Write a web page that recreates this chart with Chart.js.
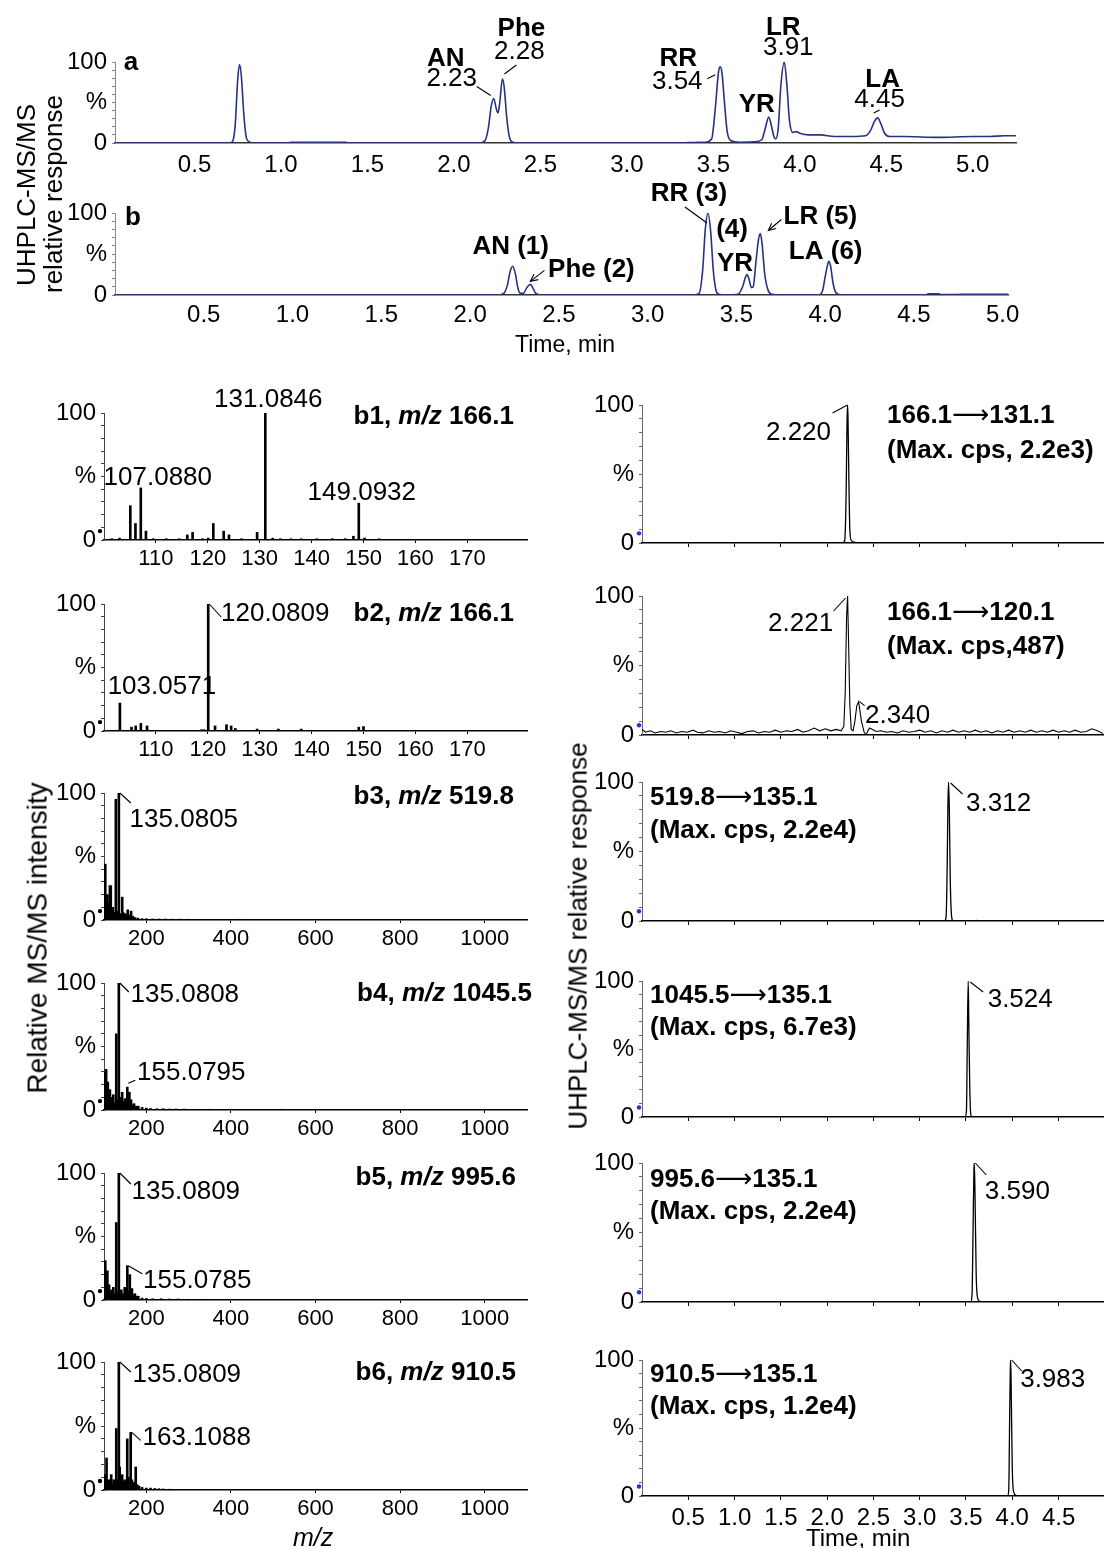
<!DOCTYPE html>
<html>
<head>
<meta charset="utf-8">
<title>UHPLC-MS/MS chromatograms and MS/MS spectra</title>
<script src="https://cdn.jsdelivr.net/npm/chart.js@4.4.1/dist/chart.umd.min.js"></script>
<style>
  html, body { margin: 0; padding: 0; background: #fff; }
  #page { position: relative; width: 1108px; height: 1548px; overflow: hidden; background: #fff;
          font-family: "Liberation Sans", Arial, Helvetica, sans-serif; color: #000; }
  #page canvas { position: absolute; }
  .txt { position: absolute; white-space: nowrap; text-align: center; color: #000; }
</style>
</head>
<body>
<div id="page"></div>
<script>
// ---------------- data ----------------
// Chromatogram (a): [retention time (min), relative response (%)]
const chromA = [[0.04,0],[0.6,0],[0.70,0],[0.72,2],[0.735,22],[0.75,80],[0.76,97],[0.77,84],[0.785,35],[0.80,6],[0.82,1],[0.85,0],
  [1.04,0],[1.06,1],[1.37,1],[1.39,0],[2.15,0],[2.18,3],[2.20,20],[2.215,45],[2.23,55],[2.245,42],[2.255,37],[2.265,50],[2.28,79],
  [2.29,70],[2.305,32],[2.32,8],[2.34,1],[2.38,0],[3.30,0],[3.36,0.5],[3.45,1],[3.49,5],[3.51,40],[3.53,88],[3.54,94],[3.55,86],
  [3.565,48],[3.58,14],[3.60,3],[3.65,1],[3.74,1.5],[3.78,4],[3.80,18],[3.82,32],[3.835,22],[3.85,8],[3.86,5],[3.875,18],[3.89,70],
  [3.91,100],[3.925,72],[3.94,28],[3.96,13],[3.98,14],[4.00,12],[4.05,10],[4.12,10],[4.20,8],[4.30,8],[4.38,9],[4.41,16],[4.43,26],
  [4.45,31],[4.47,23],[4.49,12],[4.52,8],[4.60,8],[4.80,7],[5.00,8],[5.10,8],[5.18,9],[5.25,9]];

// Chromatogram (b): [retention time (min), relative response (%)]
const chromB = [[0,0],[2.16,0],[2.19,2],[2.21,12],[2.225,28],[2.24,35],[2.255,26],[2.27,8],[2.285,2],[2.30,2],[2.32,9],[2.34,13],
  [2.355,8],[2.37,2],[2.40,0],[3.25,0],[3.29,2],[3.31,30],[3.325,80],[3.34,100],[3.355,78],[3.37,30],[3.385,6],[3.40,1],[3.44,0],
  [3.51,1],[3.535,10],[3.55,21],[3.56,25],[3.57,20],[3.585,9],[3.595,10],[3.61,40],[3.625,68],[3.635,75],[3.645,62],[3.66,25],
  [3.68,5],[3.70,1],[3.74,0],[3.96,0],[3.985,5],[4.00,22],[4.015,38],[4.02,41],[4.03,36],[4.045,14],[4.06,3],[4.09,0],[4.57,0],
  [4.58,1.5],[4.64,1.5],[4.65,0.5],[4.75,0.5],[4.77,1],[5.03,1]];

// Product-ion spectra: [m/z, relative intensity (%)]
const specB1 = [[101.5,1],[103.0,1.5],[105.07,27],[106.06,13],[107.09,41],[108.08,7],[109.5,1],[112.0,1],[114.5,1],[116.05,4],
  [117.07,6],[119.0,1],[120.08,1.5],[121.06,13],[123.06,7],[124.08,4],[126.5,1],[129.5,6],[131.08,100],[132.5,1.5],[134,1],[136,1],
  [138,1],[141,1],[144,1],[146.5,1],[148.06,3],[149.09,29],[150.2,1.5],[153,1],[158,0.5],[163,0.5],[170,0.5],[176,0.5]];
const specB2 = [[103.06,22],[105.3,3],[106.1,4],[107.1,6],[108.3,4],[118.8,1],[119.3,1],[120.08,100],[121.4,4],[123.6,5],
  [124.5,4],[125.3,2],[129.5,1.5],[133.6,1.5],[138.0,1.5],[149.1,3],[150.0,3.5]];
const specB3 = [[101,12],[103,44],[105,18],[106,10],[108,20],[110,9],[112,14],[114,27],[116,27],[118,8],[121,10],[123,6],[125,5],
  [128,95],[131,7],[135.08,100],[137,5],[140,4],[143,18],[145,6],[149,5],[152,4],[156,8],[160,4],[164,7],[168,3],[173,2],[180,1.5],
  [190,1],[200,1],[215,0.8],[230,0.8],[245,0.8],[260,0.7],[280,0.7],[300,0.6],[330,0.5],[370,0.5],[420,0.6],[470,0.5],[520,0.5],
  [580,0.4],[640,0.5],[700,0.4],[760,0.5],[820,0.4],[880,0.5],[940,0.4],[1000,0.4],[1060,0.4]];
const specB4 = [[101,30],[103,18],[105,32],[107,12],[109,22],[111,9],[114,16],[116,7],[118,10],[120,6],[122,12],[125,6],[129,60],
  [131,8],[135.08,100],[137,6],[139,10],[141,5],[143,14],[147,7],[150,9],[155.08,18],[158,8],[160,14],[164,8],[168,4],[171,5],
  [176,3],[181,3],[190,2],[200,1.5],[210,1.2],[225,1],[240,1],[255,0.8],[270,0.8],[290,0.7],[320,0.6],[350,0.6],[400,0.6],
  [460,0.5],[520,0.6],[580,0.5],[640,0.5],[700,0.5],[760,0.5],[820,0.5],[880,0.4],[940,0.5],[1000,0.4],[1060,0.4]];
const specB5 = [[101,10],[103,31],[105,14],[108,23],[110,8],[112,12],[115,6],[118,8],[120,5],[122,10],[125,5],[129,61],[131,6],
  [135.08,100],[137,5],[141,8],[145,5],[149,10],[152,6],[155.08,27],[158,7],[161,20],[164,6],[166,9],[170,4],[173,5],[177,3],
  [181,3],[190,1.5],[200,1.2],[215,1],[235,1],[255,0.8],[275,0.8],[300,0.6],[340,0.6],[400,0.5],[460,0.5],[530,0.5],[600,0.4],
  [680,0.5],[750,0.4],[830,0.5],[900,0.4],[960,0.5],[1040,0.4]];
const specB6 = [[101,12],[104,8],[106,25],[108,6],[111,8],[114,6],[117,12],[120,5],[123,8],[126,6],[129,48],[131,8],[135.08,100],
  [137,18],[140,6],[143,12],[147,7],[150,8],[155,40],[158,10],[163.11,45],[166,8],[170,6],[175,18],[179,4],[183,3],[190,2],
  [200,1.5],[210,1.5],[220,1.2],[230,1],[240,0.8],[255,0.6],[270,0.5],[300,0.5],[350,0.4],[420,0.4],[500,0.4],[600,0.3],
  [700,0.3],[800,0.3],[900,0.3],[1000,0.3]];

// MRM traces: [retention time (min), relative response (%)]
const mrmB1 = [[0,0],[2.17,0],[2.19,2],[2.205,35],[2.215,88],[2.22,100],[2.225,92],[2.235,45],[2.245,10],[2.26,2],[2.30,0.5],[2.35,0],[4.98,0]];
const mrmB2 = [[0,4],[0.04,2],[0.09,3],[0.14,1.5],[0.2,2.5],[0.26,2],[0.31,3],[0.37,1.5],[0.43,2.5],[0.49,2],[0.55,3.5],[0.6,2],
  [0.66,1.5],[0.72,3],[0.78,2],[0.84,2.5],[0.9,1.5],[0.96,3],[1.02,2],[1.08,1],[1.14,2.5],[1.2,3],[1.26,1.5],[1.32,2.5],[1.38,2],
  [1.44,3.5],[1.5,2],[1.56,3],[1.62,2.5],[1.68,4],[1.74,2],[1.8,3],[1.86,5],[1.92,3],[1.98,4.5],[2.04,3],[2.1,4],[2.15,3],[2.18,6],
  [2.195,30],[2.21,85],[2.221,100],[2.23,72],[2.245,22],[2.26,4],[2.28,3],[2.30,10],[2.32,21],[2.34,24],[2.355,17],[2.37,10],
  [2.385,6],[2.40,2],[2.42,0],[2.44,3],[2.46,5],[2.49,4],[2.53,2.5],[2.58,3],[2.64,2],[2.7,2.5],[2.76,1.5],[2.82,3],[2.88,2],
  [2.94,2.5],[3.0,3.5],[3.06,2],[3.12,3],[3.18,1.5],[3.24,3],[3.3,2],[3.36,3.5],[3.42,2],[3.48,3],[3.54,2],[3.6,3.5],[3.66,2],
  [3.72,3],[3.78,1.5],[3.84,3],[3.9,2],[3.96,3.5],[4.02,2],[4.08,3],[4.14,2],[4.2,3.5],[4.26,2],[4.32,3],[4.38,2],[4.44,3.5],
  [4.5,2],[4.56,3],[4.62,2],[4.68,3.5],[4.74,2],[4.8,2.5],[4.86,4.5],[4.92,3],[4.98,1]];
const mrmB3 = [[0,0],[3.27,0],[3.285,3],[3.297,40],[3.305,85],[3.312,100],[3.32,80],[3.33,30],[3.345,3],[3.36,0],[3.60,0],[3.61,0.5],[3.63,0],[4.98,0]];
const mrmB4 = [[0,0],[3.49,0],[3.505,5],[3.515,60],[3.524,100],[3.53,70],[3.54,25],[3.55,3],[3.565,0],[4.98,0]];
const mrmB5 = [[0,0],[3.55,0],[3.565,5],[3.578,60],[3.586,96],[3.59,100],[3.598,75],[3.61,20],[3.625,3],[3.65,0.5],[3.70,0],[4.98,0]];
const mrmB6 = [[0,0],[3.95,0],[3.962,5],[3.972,60],[3.979,95],[3.983,100],[3.99,70],[4.00,20],[4.015,3],[4.04,0.5],[4.10,0],[4.98,0]];

// Axis ticks and tick labels
const timeTicks = [0.5, 1.0, 1.5, 2.0, 2.5, 3.0, 3.5, 4.0, 4.5, 5.0];
const mrmTimeTicks = [0.5, 1.0, 1.5, 2.0, 2.5, 3.0, 3.5, 4.0, 4.5];
const mzTicksNarrow = [110, 120, 130, 140, 150, 160, 170];
const mzTicksWide = [200, 400, 600, 800, 1000];
const pctTicks = [0, 10, 20, 30, 40, 50, 60, 70, 80, 90, 100];
const pctLabels = { 0: '0', 50: '%', 100: '100' };

// ---------------- drawing ----------------
const FONT = '"Liberation Sans", Arial, Helvetica, "DejaVu Sans", sans-serif';
const REG = `26px ${FONT}`;
const BOLD = `bold 26px ${FONT}`;
const BOLDIT = `italic bold 26px ${FONT}`;
const ARROW = `26px "DejaVu Sans", sans-serif`;
const PAD = { l: 80, r: 40, t: 60, b: 50 };
const page = document.getElementById('page');

function addText(txt, cx, cy, size, opts = {}) {
  const d = document.createElement('div');
  d.className = 'txt';
  d.textContent = txt;
  d.style.font = `${opts.italic ? 'italic ' : ''}${opts.bold ? 'bold ' : ''}${size}px ${FONT}`;
  d.style.lineHeight = size + 'px';
  page.appendChild(d);
  const w = d.offsetWidth, h = d.offsetHeight;
  d.style.left = (cx - w / 2) + 'px';
  d.style.top = (cy - h / 2) + 'px';
  if (opts.rotate) d.style.transform = 'rotate(-90deg)';
}

// Labels, leader lines and arrows, anchored to data points or the plot area
function annotPlugin(items) {
  return {
    id: 'annot',
    afterDraw(chart) {
      const { ctx, chartArea: ca } = chart;
      const xs = chart.scales.x, ys = chart.scales.y;
      ctx.save();
      for (const it of items) {
        let ax, ay;
        if (it.at) { ax = xs.getPixelForValue(it.at[0]); ay = ys.getPixelForValue(it.at[1]); }
        else { ax = it.edge === 'right' ? ca.right : ca.left; ay = ca.top; }
        if (it.line) {
          const [x1, y1, x2, y2] = it.line;
          ctx.strokeStyle = '#000';
          ctx.lineWidth = it.lw || 1.1;
          ctx.beginPath(); ctx.moveTo(ax + x1, ay + y1); ctx.lineTo(ax + x2, ay + y2); ctx.stroke();
          if (it.head) {
            const a = Math.atan2(y2 - y1, x2 - x1), L = 8;
            ctx.beginPath();
            ctx.moveTo(ax + x2 - L * Math.cos(a - 0.45), ay + y2 - L * Math.sin(a - 0.45));
            ctx.lineTo(ax + x2, ay + y2);
            ctx.lineTo(ax + x2 - L * Math.cos(a + 0.45), ay + y2 - L * Math.sin(a + 0.45));
            ctx.stroke();
          }
        }
        if (it.mark) {
          ctx.fillStyle = it.mark;
          ctx.beginPath(); ctx.arc(ax + it.dx, ay + it.dy, 2.2, 0, Math.PI * 2); ctx.fill();
        }
        const parts = it.parts || (it.text ? [[it.text, it.font || REG]] : null);
        if (parts) {
          ctx.fillStyle = '#000';
          ctx.textBaseline = 'middle';
          ctx.textAlign = 'left';
          let w = 0;
          parts.forEach(([s, f]) => { ctx.font = f; w += ctx.measureText(s).width; });
          let x0 = ax + it.dx;
          const align = it.align || 'center';
          if (align === 'center') x0 -= w / 2; else if (align === 'right') x0 -= w;
          parts.forEach(([s, f]) => { ctx.font = f; ctx.fillText(s, x0, ay + it.dy); x0 += ctx.measureText(s).width; });
        }
      }
      ctx.restore();
    }
  };
}

function panel(p) {
  const W = p.right - p.left + PAD.l + PAD.r;
  const H = p.bottom - p.top + PAD.t + PAD.b;
  const cv = document.createElement('canvas');
  cv.width = W; cv.height = H;
  Object.assign(cv.style, { left: (p.left - PAD.l) + 'px', top: (p.top - PAD.t) + 'px', width: W + 'px', height: H + 'px' });
  page.appendChild(cv);
  const spec = p.kind === 'spec';
  const points = p.series.map(([x, y]) => ({ x, y }));
  const ds = spec
    ? { type: 'bar', data: points, backgroundColor: '#000', barThickness: 2, grouped: false, borderWidth: 0 }
    : { type: 'line', data: points, borderColor: p.color || '#000', borderWidth: p.lw || 1.3, pointRadius: 0, fill: false,
        cubicInterpolationMode: p.noisy ? 'default' : 'monotone', tension: 0 };
  new Chart(cv, {
    type: spec ? 'bar' : 'line',
    data: { datasets: [ds] },
    options: {
      responsive: false, animation: false, events: [],
      layout: { padding: { left: 0, top: PAD.t, right: PAD.r, bottom: 0 } },
      plugins: { legend: { display: false }, tooltip: { enabled: false } },
      scales: {
        x: {
          type: 'linear', min: p.xMin, max: p.xMax, offset: false,
          afterFit(s) { s.height = PAD.b; },
          afterBuildTicks(s) { s.ticks = p.xTicks.map(v => ({ value: v })); },
          border: { color: p.xBorder || '#000', width: 1.5 },
          grid: { drawOnChartArea: false, drawTicks: (p.xTickLen || 0) > 0, tickLength: p.xTickLen || 0, color: '#000', offset: false },
          ticks: { autoSkip: false, maxRotation: 0, minRotation: 0, padding: p.xPad, color: '#000',
                   font: { family: FONT, size: p.xFont }, callback: v => (p.xLabel ? p.xLabel(v) : '') }
        },
        y: {
          min: 0, max: 100,
          afterFit(s) { s.width = PAD.l; },
          afterBuildTicks(s) { s.ticks = pctTicks.map(v => ({ value: v })); },
          border: { color: p.yBorder || '#555', width: 1 },
          grid: { drawOnChartArea: false, tickLength: 3, color: p.yBorder || '#555' },
          ticks: { autoSkip: false, padding: 5, color: '#000', font: { family: FONT, size: 24 },
                   callback: v => pctLabels[v] ?? '' }
        }
      }
    },
    plugins: [annotPlugin(p.items || [])]
  });
}

const fmtTime = v => v.toFixed(1);
const fmtMz = v => String(v);

// ---- overview chromatograms ----
const NAVY = '#27337c';
panel({ left: 115, right: 1016, top: 62, bottom: 143, xMin: 0.04, xMax: 5.25, series: chromA, color: NAVY, lw: 1.6,
  xTicks: timeTicks, xLabel: fmtTime, xFont: 24, xPad: 8, xBorder: '#333', yBorder: '#8a8a8a',
  items: [
    { text: 'a', font: BOLD, dx: 16, dy: 1 },
    { at: [2.23, 55], text: 'AN', font: BOLD, dx: -48, dy: -40 },
    { at: [2.23, 55], text: '2.23', dx: -42, dy: -20 },
    { at: [2.23, 55], line: [-17, -12, -3, -3] },
    { at: [2.28, 79], text: 'Phe', font: BOLD, dx: 19, dy: -50 },
    { at: [2.28, 79], text: '2.28', dx: 17, dy: -27 },
    { at: [2.28, 79], line: [2, -5, 14, -14] },
    { at: [3.54, 94], text: 'RR', font: BOLD, dx: -42, dy: -8 },
    { at: [3.54, 94], text: '3.54', dx: -43, dy: 15 },
    { at: [3.54, 94], line: [-13, 12, -5, 8] },
    { at: [3.82, 32], text: 'YR', font: BOLD, dx: -12, dy: -12 },
    { at: [3.91, 100], text: 'LR', font: BOLD, dx: -1, dy: -34 },
    { at: [3.91, 100], text: '3.91', dx: 4, dy: -14 },
    { at: [4.45, 31], text: 'LA', font: BOLD, dx: 5, dy: -38 },
    { at: [4.45, 31], text: '4.45', dx: 2, dy: -18 },
    { at: [4.45, 31], line: [-4, -5, 2, -8] }
  ] });

panel({ left: 115, right: 1008, top: 213, bottom: 295, xMin: 0, xMax: 5.03, series: chromB, color: NAVY, lw: 1.6,
  xTicks: timeTicks, xLabel: fmtTime, xFont: 24, xPad: 6, xBorder: '#333', yBorder: '#8a8a8a',
  items: [
    { text: 'b', font: BOLD, dx: 18, dy: 5 },
    { at: [2.24, 35], text: 'AN (1)', font: BOLD, dx: -2, dy: -19 },
    { at: [2.34, 13], text: 'Phe (2)', font: BOLD, dx: 61, dy: -15 },
    { at: [2.34, 13], line: [14, -14, 0, -3], head: true },
    { at: [3.34, 100], text: 'RR (3)', font: BOLD, dx: -19, dy: -19 },
    { at: [3.34, 100], line: [-23, -6, -1, 10] },
    { at: [3.56, 25], text: '(4)', font: BOLD, dx: -15, dy: -45 },
    { at: [3.56, 25], text: 'YR', font: BOLD, dx: -12, dy: -11 },
    { at: [3.635, 75], text: 'LR (5)', font: BOLD, dx: 60, dy: -17 },
    { at: [3.635, 75], line: [21, -14, 8, -3], head: true },
    { at: [4.02, 41], text: 'LA (6)', font: BOLD, dx: -3, dy: -10 }
  ] });

// ---- product-ion spectra ----
const specCommon = { kind: 'spec', left: 104, right: 527, xFont: 22, xPad: 3, xTickLen: 3, xLabel: fmtMz, yBorder: '#444' };
const dot = xMin => ({ at: [xMin, 7], mark: '#000', dx: -4, dy: 0 });
const title = (n, prec, dx, dy) => ({ edge: 'right', align: 'right', dx, dy,
  parts: [[`${n}, `, BOLD], ['m/z', BOLDIT], [` ${prec}`, BOLD]] });

panel({ ...specCommon, top: 413, bottom: 540, xMin: 100, xMax: 181.5, xTicks: mzTicksNarrow, series: specB1,
  items: [ dot(100), title('b1', '166.1', -13, 4),
    { at: [131.08, 100], text: '131.0846', dx: 3, dy: -13 },
    { at: [107.09, 41], text: '107.0880', dx: 17, dy: -10 },
    { at: [149.09, 29], text: '149.0932', dx: 3, dy: -10 } ] });

panel({ ...specCommon, top: 604, bottom: 731, xMin: 100, xMax: 181.5, xTicks: mzTicksNarrow, series: specB2,
  items: [ dot(100), title('b2', '166.1', -13, 10),
    { at: [120.08, 100], text: '120.0809', dx: 67, dy: 10 },
    { at: [120.08, 100], line: [1, 0, 13, 13] },
    { at: [103.06, 22], text: '103.0571', dx: 42, dy: -16 } ] });

panel({ ...specCommon, top: 793, bottom: 920, xMin: 100, xMax: 1100, xTicks: mzTicksWide, series: specB3,
  items: [ dot(100), title('b3', '519.8', -13, 4),
    { at: [135.08, 100], text: '135.0805', dx: 65, dy: 27 },
    { at: [135.08, 100], line: [1, 0, 12, 10] } ] });

panel({ ...specCommon, top: 983, bottom: 1110, xMin: 100, xMax: 1100, xTicks: mzTicksWide, series: specB4,
  items: [ dot(100), title('b4', '1045.5', 5, 11),
    { at: [135.08, 100], text: '135.0808', dx: 66, dy: 12 },
    { at: [135.08, 100], line: [1, 0, 10, 9] },
    { at: [155.08, 18], text: '155.0795', dx: 64, dy: -14 },
    { at: [155.08, 18], line: [1, -4, 8, -7] } ] });

panel({ ...specCommon, top: 1173, bottom: 1300, xMin: 100, xMax: 1100, xTicks: mzTicksWide, series: specB5,
  items: [ dot(100), title('b5', '995.6', -11, 5),
    { at: [135.08, 100], text: '135.0809', dx: 67, dy: 19 },
    { at: [135.08, 100], line: [1, 0, 12, 11] },
    { at: [155.08, 27], text: '155.0785', dx: 70, dy: 15 },
    { at: [155.08, 27], line: [1, 0, 15, 8] } ] });

panel({ ...specCommon, top: 1362, bottom: 1490, xMin: 100, xMax: 1100, xTicks: mzTicksWide, series: specB6,
  items: [ dot(100), title('b6', '910.5', -11, 11),
    { at: [135.08, 100], text: '135.0809', dx: 68, dy: 13 },
    { at: [135.08, 100], line: [1, 0, 12, 10] },
    { at: [163.11, 45], text: '163.1088', dx: 66, dy: 5 },
    { at: [163.11, 45], line: [1, 0, 10, 8] } ] });

// ---- MRM chromatograms ----
const mrmCommon = { left: 642, right: 1103, xMin: 0, xMax: 4.98, xTicks: mrmTimeTicks, xFont: 24, xPad: 4, xTickLen: 4,
  color: '#000', lw: 1.3, yBorder: '#666' };
const blue = { at: [0, 7], mark: '#1c35e8', dx: -3, dy: 0 };
const mrmTitle = (pre, prod, cps, dx, dy1, dy2) => [
  { align: 'left', dx, dy: dy1, parts: [[pre, BOLD], ['\u27F6', ARROW], [prod, BOLD]] },
  { align: 'left', dx, dy: dy2, parts: [[cps, BOLD]] } ];

panel({ ...mrmCommon, top: 405, bottom: 543, series: mrmB1,
  items: [ blue, ...mrmTitle('166.1', '131.1', '(Max. cps, 2.2e3)', 245, 11, 46),
    { at: [2.22, 100], text: '2.220', dx: -49, dy: 28 },
    { at: [2.22, 100], line: [-15, 8, 0, 0] } ] });

panel({ ...mrmCommon, top: 596, bottom: 735, series: mrmB2, noisy: true, lw: 1.1,
  items: [ blue, ...mrmTitle('166.1', '120.1', '(Max. cps,487)', 245, 17, 51),
    { at: [2.221, 100], text: '2.221', dx: -47, dy: 28 },
    { at: [2.221, 100], line: [-14, 15, -2, 2] },
    { at: [2.34, 24], text: '2.340', dx: 39, dy: 14 },
    { at: [2.34, 24], line: [1, 0, 6, 4] } ] });

panel({ ...mrmCommon, top: 782, bottom: 921, series: mrmB3,
  items: [ blue, ...mrmTitle('519.8', '135.1', '(Max. cps, 2.2e4)', 8, 16, 49),
    { at: [3.312, 100], text: '3.312', dx: 50, dy: 22 },
    { at: [3.312, 100], line: [2, 1, 14, 12] } ] });

panel({ ...mrmCommon, top: 981, bottom: 1117, series: mrmB4,
  items: [ blue, ...mrmTitle('1045.5', '135.1', '(Max. cps, 6.7e3)', 8, 15, 47),
    { at: [3.524, 100], text: '3.524', dx: 52, dy: 19 },
    { at: [3.524, 100], line: [2, 1, 15, 11] } ] });

panel({ ...mrmCommon, top: 1163, bottom: 1302, series: mrmB5,
  items: [ blue, ...mrmTitle('995.6', '135.1', '(Max. cps, 2.2e4)', 8, 17, 49),
    { at: [3.59, 100], text: '3.590', dx: 43, dy: 29 },
    { at: [3.59, 100], line: [1, 0, 12, 12] } ] });

panel({ ...mrmCommon, top: 1360, bottom: 1496, series: mrmB6, xLabel: fmtTime, xPad: 4,
  items: [ blue, ...mrmTitle('910.5', '135.1', '(Max. cps, 1.2e4)', 8, 15, 47),
    { at: [3.983, 100], text: '3.983', dx: 42, dy: 20 },
    { at: [3.983, 100], line: [1, 0, 11, 11] } ] });

// ---- axis titles ----
addText('UHPLC-MS/MS', 26, 195, 26, { rotate: true });
addText('relative response', 53, 194, 26, { rotate: true });
addText('Time, min', 565, 344, 23);
addText('Relative MS/MS intensity', 37, 938, 28, { rotate: true });
addText('UHPLC-MS/MS relative response', 577, 936, 26, { rotate: true });
addText('m/z', 313, 1537, 25, { italic: true });
addText('Time, min', 858, 1538, 24);
</script>
</body>
</html>
